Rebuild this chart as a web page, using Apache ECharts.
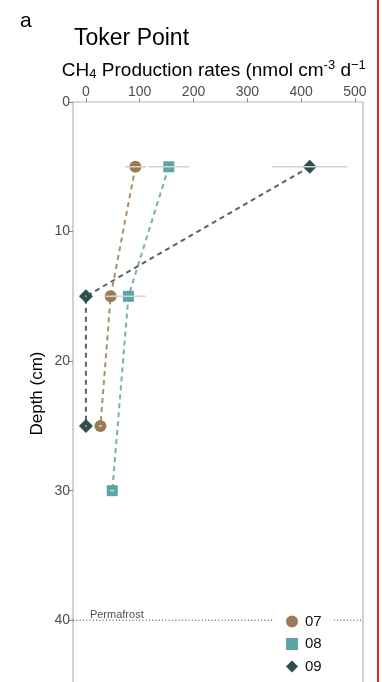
<!DOCTYPE html>
<html>
<head>
<meta charset="utf-8">
<script src="https://cdn.jsdelivr.net/npm/echarts@6/dist/echarts.min.js"></script>
<style>
  html, body { margin: 0; padding: 0; background: #fff; }
  #chart { position: absolute; left: 0; top: 0; width: 368px; height: 682px; }
  #edge { position: absolute; left: 377px; top: 0; width: 1.5px; height: 682px; background: #e8282b; }
</style>
</head>
<body>
<div id="chart"></div>
<div id="edge"></div>
<script>
// Depth profile of CH4 production rates at Toker Point
const depthTicks = [0, 10, 20, 30, 40];
const rateTicks = [0, 100, 200, 300, 400, 500];
const permafrostDepth = 40;

// core 07
const depth07 = [5, 15, 25];
const rate07 = [92, 46, 27];
const err07 = [20, 12, 3];
// core 08
const depth08 = [5, 15, 30];
const rate08 = [154, 79, 49];
const err08 = [37, 32, 4];
// core 09
const depth09 = [5, 15, 25];
const rate09 = [416, 0, 0];
const err09 = [70, 0, 0];

const cores = [
  { name: '07', depth: depth07, rate: rate07, err: err07, color: '#9b7b55', symbol: 'circle', size: 12 },
  { name: '08', depth: depth08, rate: rate08, err: err08, color: '#5ca3a5', symbol: 'rect', size: 11 },
  { name: '09', depth: depth09, rate: rate09, err: err09, color: '#2e4e4e', symbol: 'diamond', size: 14 }
];

const font = 'Liberation Sans, Arial, sans-serif';
const chart = echarts.init(document.getElementById('chart'), null, { renderer: 'canvas' });

const errData = [];
cores.forEach(c => c.depth.forEach((d, i) => errData.push([c.rate[i], d, c.err[i]])));

const series = cores.map(c => ({
  name: c.name,
  type: 'line',
  data: c.depth.map((d, i) => [c.rate[i], d]),
  symbol: c.symbol,
  symbolSize: c.size,
  showSymbol: true,
  itemStyle: { color: c.color, opacity: 1 },
  lineStyle: { color: c.color, width: 2, type: [5, 4], opacity: 0.85 },
  z: 3
}));

series.push({
  name: 'errors',
  type: 'custom',
  data: errData,
  z: 5,
  silent: true,
  renderItem: function (params, api) {
    const x = api.value(0), y = api.value(1), e = api.value(2);
    const p1 = api.coord([x - e, y]);
    const p2 = api.coord([x + e, y]);
    if (e === 0) { p1[0] -= 0.6; p2[0] += 0.6; }
    return {
      type: 'line',
      shape: { x1: p1[0], y1: p1[1], x2: p2[0], y2: p2[1] },
      style: { stroke: '#d2d2d2', lineWidth: 1.5 }
    };
  }
});

series.push({
  name: 'permafrost',
  type: 'line',
  data: [[-24, permafrostDepth], [515, permafrostDepth]],
  symbol: 'none',
  silent: true,
  lineStyle: { color: '#333', width: 1, type: [1, 2.3] },
  z: 1
});

series.push({
  name: 'permafrostLabel',
  type: 'scatter',
  data: [[0, permafrostDepth]],
  symbolSize: 0,
  silent: true,
  label: {
    show: true,
    formatter: 'Permafrost',
    position: [4, -11],
    align: 'left',
    fontFamily: font,
    fontSize: 11,
    color: '#222'
  },
  z: 2
});

chart.setOption({
  animation: false,
  title: [
    { text: 'a', left: 15, top: 6, textStyle: { fontFamily: font, fontSize: 21, fontWeight: 'normal', color: '#000' } },
    { text: 'Toker Point', left: 69, top: 22, textStyle: { fontFamily: font, fontSize: 23, fontWeight: 'normal', color: '#000' } }
  ],
  grid: {
    left: 73, top: 102, width: 290, height: 583,
    outerBoundsMode: 'none',
    containLabel: false,
    show: true, borderColor: '#b5b5b5', borderWidth: 1.2, backgroundColor: '#fff'
  },
  legend: {
    orient: 'vertical',
    left: 274, top: 612,
    backgroundColor: '#fff',
    padding: [2, 12, 2, 12],
    itemWidth: 12, itemHeight: 12, itemGap: 7.5,
    selectedMode: false,
    textStyle: { fontFamily: font, fontSize: 15, color: '#111', padding: [0, 0, 0, 2] },
    data: [
      { name: '07', icon: 'circle', itemStyle: { color: '#9b7b55' } },
      { name: '08', icon: 'rect', itemStyle: { color: '#5ca3a5' } },
      { name: '09', icon: 'diamond', itemStyle: { color: '#2e4e4e' } }
    ]
  },
  xAxis: {
    type: 'value',
    position: 'top',
    min: -24, max: 515,
    splitLine: { show: false },
    axisLine: { show: false, onZero: false },
    axisTick: { show: true, length: 4, lineStyle: { color: '#888' }, customValues: rateTicks },
    axisLabel: { fontFamily: font, fontSize: 14, color: '#4d4d4d', margin: 3, customValues: rateTicks },
    name: '{a|CH}{b|4}{a| Production rates (nmol cm}{c|-3}{a| d}{c|\u22121}{p|)}',
    nameLocation: 'middle',
    nameGap: 20,
    nameMoveOverlap: false,
    nameTextStyle: {
      rich: {
        a: { fontFamily: font, fontSize: 19, color: '#000' },
        b: { fontFamily: font, fontSize: 13, color: '#000', padding: [8, 0, 0, 0] },
        c: { fontFamily: font, fontSize: 13, color: '#000', padding: [0, 0, 10, 0] },
        p: { fontFamily: font, fontSize: 19, color: '#000', padding: [0, 0, 0, 2] }
      }
    }
  },
  yAxis: {
    type: 'value',
    inverse: true,
    min: 0, max: 45,
    splitLine: { show: false },
    axisLine: { show: false, onZero: false },
    axisTick: { show: true, length: 4, lineStyle: { color: '#888' }, customValues: depthTicks },
    axisLabel: { fontFamily: font, fontSize: 14, color: '#4d4d4d', margin: 3, customValues: depthTicks },
    name: 'Depth (cm)',
    nameLocation: 'middle',
    nameGap: 27,
    nameMoveOverlap: false,
    nameRotate: 90,
    nameTextStyle: { fontFamily: font, fontSize: 17, color: '#000' }
  },
  series: series
});
</script>
</body>
</html>
